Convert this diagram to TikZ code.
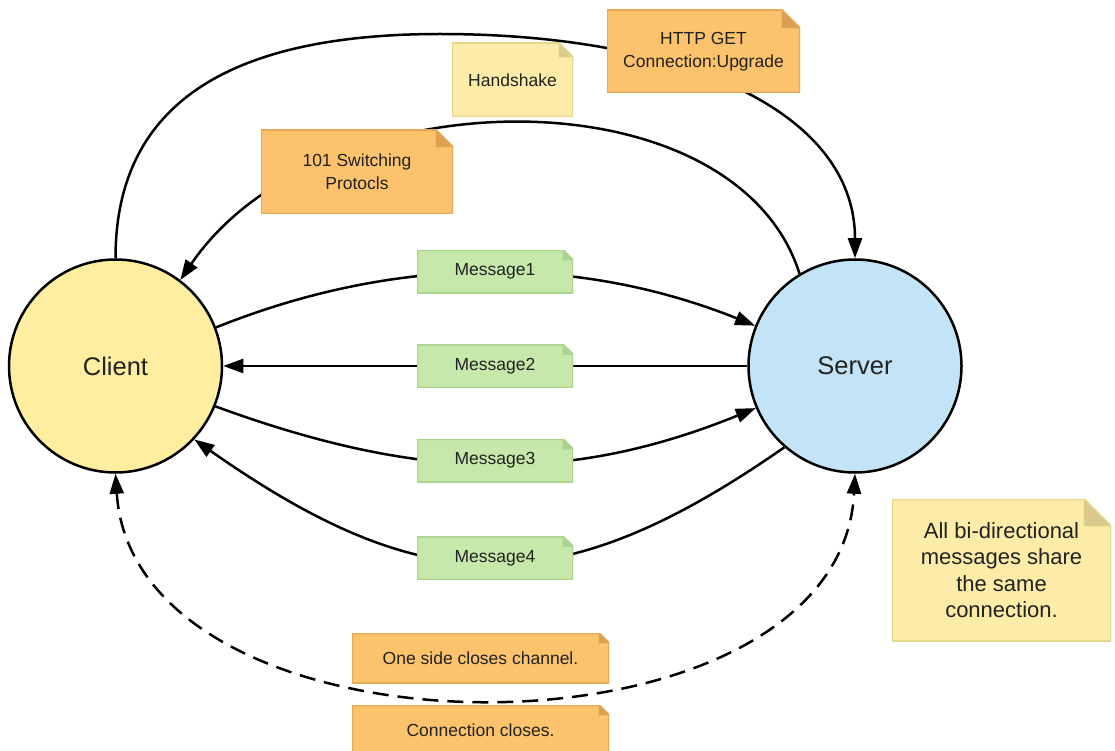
\documentclass[tikz,border=0pt]{standalone}
\usepackage{fontspec}
\setmainfont{Liberation Sans}
\usetikzlibrary{arrows.meta}
\definecolor{clientfill}{HTML}{FFEDA0}
\definecolor{serverfill}{HTML}{C3E4F6}
\definecolor{orfill}{HTML}{FDC26C}
\definecolor{orline}{HTML}{E6AA55}
\definecolor{orfold}{HTML}{DCA052}
\definecolor{ylfill}{HTML}{FCECA8}
\definecolor{ylline}{HTML}{E6D68E}
\definecolor{ylfold}{HTML}{D9C98C}
\definecolor{grfill}{HTML}{C6E8AA}
\definecolor{grline}{HTML}{A9D68C}
\definecolor{grfold}{HTML}{ADD293}
\definecolor{txt}{HTML}{222222}
\tikzset{
  notebody/.style n args={4}{rectangle, inner sep=0pt, align=center, text=txt,
    path picture={
      \path[fill=#1, draw=#2, line width=2pt, line join=round]
        (path picture bounding box.south west) -- (path picture bounding box.north west)
        -- ([xshift=-#4]path picture bounding box.north east)
        -- ([yshift=-#4]path picture bounding box.north east)
        -- (path picture bounding box.south east) -- cycle;
      \path[fill=#3, draw=#2, line width=0.8pt, line join=round]
        ([xshift=-#4]path picture bounding box.north east)
        -- ([xshift=-#4,yshift=-#4]path picture bounding box.north east)
        -- ([yshift=-#4]path picture bounding box.north east) -- cycle;
    }},
  ornote/.style={notebody={orfill}{orline}{orfold}{#1}},
  ylnote/.style={notebody={ylfill}{ylline}{ylfold}{#1}},
  grnote/.style={notebody={grfill}{grline}{grfold}{#1}, minimum width=156pt, minimum height=43pt, font=\notefont},
  party/.style={circle, draw=black, line width=2.5pt, minimum size=213pt, inner sep=0pt, text=txt, font=\fontsize{25.5}{30}\selectfont},
  conn/.style={draw=black, line width=2.5pt},
  tip/.style={-{Triangle[length=20pt,width=14pt]}},
  twotip/.style={{Triangle[length=20pt,width=14pt]}-{Triangle[length=20pt,width=14pt]}},
}
\newcommand{\notefont}{\fontsize{17.5}{23}\selectfont}
\begin{document}
\begin{tikzpicture}[x=1pt,y=-1pt]
\useasboundingbox (0,0) rectangle (1115,751);
% parties
\node[party, fill=clientfill] (client) at (115.5,366) {Client};
\node[party, fill=serverfill] (server) at (855,366) {Server};
% connectors
\coordinate (arctop) at (440,34);
\draw[conn, tip] (client.north) .. controls (115.5,110) and (220,34) .. (arctop)
  .. controls (680,34) and (855,110) .. (server.north);
\draw[conn, tip] (server.121) .. controls (735,70) and (320,75) .. (client.53);
\draw[conn, tip] (client.21) .. controls (394,256) and (576,254) .. (server.158);
\draw[conn, tip] (server.west) -- (client.east);
\draw[conn, tip] (client.-22) .. controls (411,478) and (562,487) .. (server.-157);
\draw[conn, tip] (server.229) .. controls (558,605) and (423,600) .. (client.-43);
\draw[conn, twotip, dash pattern=on 16pt off 9pt] (client.south) .. controls (135,772) and (840,772) .. (server.south);
% notes
\node[ornote=18pt, minimum width=193pt, minimum height=83pt, font=\notefont] (http) at (703.5,51.5) {HTTP GET\\Connection:Upgrade};
\node[ylnote=14pt, minimum width=121pt, minimum height=74pt, font=\notefont] (hand) at (512.5,80) {Handshake};
\node[ornote=17pt, minimum width=192pt, minimum height=84pt, font=\notefont] (sw) at (357,172) {101 Switching\\Protocls};
\node[grnote=10pt] (m1) at (495,271.5) {Message1};
\node[grnote=10pt] (m2) at (495,366) {Message2};
\node[grnote=10pt] (m3) at (495,460.5) {Message3};
\node[grnote=10pt] (m4) at (495,558) {Message4};
\node[ylnote=27pt, minimum width=219pt, minimum height=142pt, font=\fontsize{22}{26.5}\selectfont] (allbi) at (1001.5,570) {All bi-directional\\messages share\\the same\\connection.};
\node[ornote=10pt, minimum width=257pt, minimum height=50pt, font=\notefont] (oneside) at (480.5,658) {One side closes channel.};
\node[ornote=10pt, minimum width=257pt, minimum height=50pt, font=\notefont] (closes) at (480.5,730) {Connection closes.};
\end{tikzpicture}
\end{document}
